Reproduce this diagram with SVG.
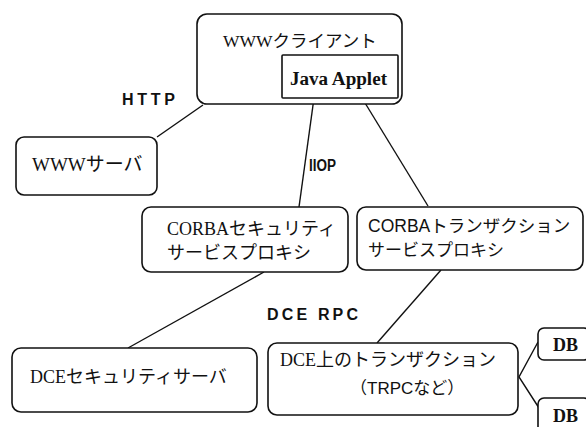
<svg xmlns="http://www.w3.org/2000/svg" width="586" height="427" viewBox="0 0 586 427">
<style>
.box{fill:#fff;stroke:#111;stroke-width:1.6}
.ln{stroke:#111;stroke-width:1.4;fill:none}
.ser{font-family:"Liberation Serif","Times New Roman","Noto Sans CJK JP",serif;fill:#111}
.jp{font-family:"Noto Sans CJK JP",sans-serif;fill:#111}
.san{font-family:"Liberation Sans",Arial,"Noto Sans CJK JP",sans-serif;fill:#111}
.lbl{font-family:"Liberation Sans",Arial,sans-serif;font-size:16px;font-weight:bold;fill:#111}
</style>
<rect width="586" height="427" fill="#fff"/>
<g id="connectors">
<line class="ln" x1="157" y1="137" x2="203" y2="105"/>
<line class="ln" x1="314" y1="98" x2="299" y2="207"/>
<line class="ln" x1="362" y1="98" x2="428" y2="206"/>
<line class="ln" x1="264" y1="272" x2="128" y2="348"/>
<line class="ln" x1="441" y1="270" x2="377" y2="343"/>
<polyline class="ln" points="538,342 519,377 539,408"/>
</g>
<g id="labels">
<text class="lbl" x="122" y="105" textLength="53" lengthAdjust="spacing">HTTP</text>
<text class="lbl" x="309" y="171" textLength="27" lengthAdjust="spacingAndGlyphs" font-weight="normal">IIOP</text>
<text class="lbl" x="267" y="320" textLength="91" lengthAdjust="spacing">DCE RPC</text>
</g>
<g id="www-client">
<rect class="box" x="197" y="14" width="205" height="90" rx="10"/>
<text x="223" y="47" font-size="17.5"><tspan class="ser">WWW</tspan><tspan class="jp">クライアント</tspan></text>
</g>
<g id="java-applet">
<rect class="box" x="282" y="55" width="116" height="43" rx="1"/>
<text class="ser" x="290" y="85" font-size="18" font-weight="bold" textLength="97" lengthAdjust="spacingAndGlyphs">Java Applet</text>
</g>
<g id="www-server">
<rect class="box" x="16" y="137" width="141" height="58" rx="8"/>
<text x="32" y="171" font-size="19"><tspan class="ser">WWW</tspan><tspan class="jp">サーバ</tspan></text>
</g>
<g id="corba-security">
<rect class="box" x="142" y="207" width="206" height="65" rx="9"/>
<text x="167" y="235" font-size="18"><tspan class="ser">CORBA</tspan><tspan class="jp">セキュリティ</tspan></text>
<text class="jp" x="167" y="259" font-size="18">サービスプロキシ</text>
</g>
<g id="corba-transaction">
<rect class="box" x="357" y="207" width="226" height="63" rx="9"/>
<text x="368" y="232" font-size="17.5"><tspan class="san">CORBA</tspan><tspan class="jp">トランザクション</tspan></text>
<text class="jp" x="368" y="256" font-size="17">サービスプロキシ</text>
</g>
<g id="dce-security">
<rect class="box" x="12" y="348" width="245" height="64" rx="9"/>
<text x="30" y="383" font-size="18"><tspan class="ser">DCE</tspan><tspan class="jp">セキュリティサーバ</tspan></text>
</g>
<g id="dce-transaction">
<rect class="box" x="268" y="343" width="250" height="72" rx="9"/>
<text x="280" y="366" font-size="18"><tspan class="ser">DCE</tspan><tspan class="jp">上のトランザクション</tspan></text>
<text x="350" y="394" font-size="17"><tspan class="jp">（</tspan><tspan class="san">TRPC</tspan><tspan class="jp">など）</tspan></text>
</g>
<g id="db1">
<rect class="box" x="538" y="328" width="52" height="32" rx="6"/>
<text class="ser" x="553" y="351" font-size="18" font-weight="bold">DB</text>
</g>
<g id="db2">
<rect class="box" x="538" y="398" width="52" height="35" rx="6"/>
<text class="ser" x="553" y="422" font-size="18" font-weight="bold">DB</text>
</g>
</svg>
